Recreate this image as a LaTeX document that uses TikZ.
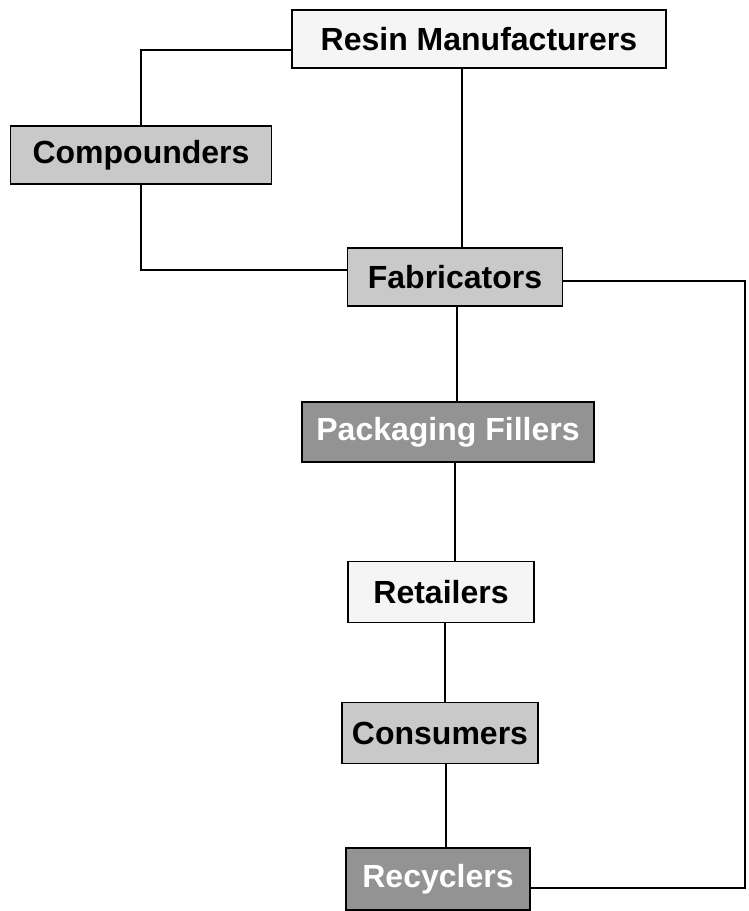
\documentclass[tikz,border=0pt]{standalone}
\usepackage{fontspec}
\setmainfont{Liberation Sans}
\usepackage{xcolor}
\usepackage{tikz}
\usetikzlibrary{shapes,arrows,positioning,calc}

\tikzset{
    stage/.style={draw=black, line width=1.8pt, rectangle, minimum height=58pt,
        inner sep=0pt, font=\fontsize{32}{36}\selectfont\bfseries},
    lightstage/.style={stage, fill=gray!8, text=black},
    midstage/.style={stage, fill=gray!42, text=black},
    darkstage/.style={stage, fill=gray!85, text=white},
    link/.style={line width=1.8pt, draw=black}
}

\begin{document}
\begin{tikzpicture}[]

        \useasboundingbox (0,0) rectangle (748pt,-911pt);

        % boxes
        \node [lightstage, minimum width=374pt] (resin) at (479pt,-39pt) {Resin Manufacturers};
        \node [midstage, minimum width=261pt] (comp) at (141pt,-155pt) {Compounders};
        \node [midstage, minimum width=215pt] (fab) at (455pt,-277pt) {Fabricators};
        \node [darkstage, minimum width=292pt, minimum height=60pt] (pack) at (448pt,-432pt) {Packaging Fillers};
        \node [lightstage, minimum width=186pt, minimum height=61pt] (ret) at (441pt,-592pt) {Retailers};
        \node [midstage, minimum width=196pt, minimum height=61pt] (cons) at (440pt,-733pt) {Consumers};
        \node [darkstage, minimum width=184pt, minimum height=62pt] (recy) at (438pt,-879pt) {Recyclers};

        \coordinate (rim) at (745pt,-580pt);

        % connectors
        \draw [link] ([yshift=-11pt]resin.west) -| (comp.north);
        \draw [link] (comp.south) |- ([yshift=7pt]fab.west);
        \draw [link] ([xshift=7pt]fab.north) -- ([xshift=7pt]fab.north |- resin.south);
        \draw [link] ([xshift=2pt]fab.south) -- ([xshift=2pt]fab.south |- pack.north);
        \draw [link] ([xshift=7pt]pack.south) -- ([xshift=7pt]pack.south |- ret.north);
        \draw [link] ([xshift=4pt]ret.south) -- ([xshift=4pt]ret.south |- cons.north);
        \draw [link] ([xshift=6pt]cons.south) -- ([xshift=6pt]cons.south |- recy.north);
        \draw [link] ([yshift=-4pt]fab.east) -| (rim) |- ([yshift=-9pt]recy.east);
        \end{tikzpicture}
\end{document}
